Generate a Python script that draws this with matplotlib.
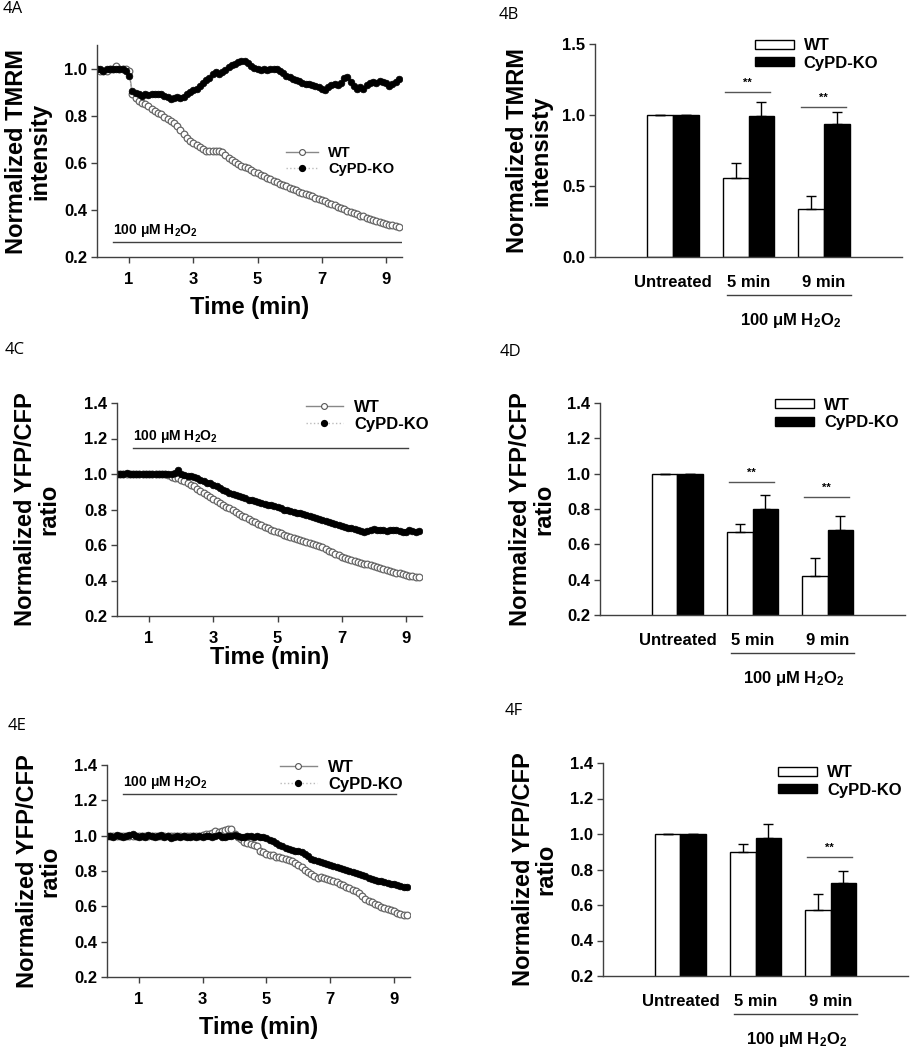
import numpy as np
import matplotlib
matplotlib.use('Agg')
import matplotlib.pyplot as plt
from matplotlib.lines import Line2D
from matplotlib.patches import Patch
from matplotlib.transforms import blended_transform_factory

plt.rcParams['font.family'] = ['Liberation Sans', 'DejaVu Sans']
plt.rcParams['font.weight'] = 'bold'
plt.rcParams['axes.labelweight'] = 'bold'
plt.rcParams['mathtext.fontset'] = 'custom'
plt.rcParams['mathtext.rm'] = 'Liberation Sans:bold'
plt.rcParams['mathtext.bf'] = 'Liberation Sans:bold'
plt.rcParams['mathtext.default'] = 'bf'

# time points (min), one reading every 0.1 min
t = np.round(np.arange(95) * 0.1, 1)

# 4A - TMRM intensity
wt_A = [1.00, 0.99, 0.99, 0.99, 1.00, 1.00, 1.01, 1.00, 1.00, 1.00,
        0.99, 0.89, 0.875, 0.862, 0.855, 0.848, 0.84, 0.83, 0.82, 0.81,
        0.805, 0.795, 0.785, 0.778, 0.77, 0.755, 0.74, 0.722, 0.706, 0.693,
        0.684, 0.674, 0.665, 0.658, 0.652, 0.649, 0.648, 0.649, 0.651, 0.645,
        0.632, 0.622, 0.612, 0.603, 0.595, 0.588, 0.582, 0.577, 0.570, 0.562,
        0.555, 0.549, 0.543, 0.537, 0.530, 0.524, 0.518, 0.512, 0.506, 0.500,
        0.495, 0.489, 0.483, 0.477, 0.472, 0.467, 0.462, 0.457, 0.452, 0.447,
        0.443, 0.437, 0.431, 0.425, 0.420, 0.414, 0.408, 0.403, 0.397, 0.392,
        0.387, 0.381, 0.376, 0.372, 0.367, 0.362, 0.358, 0.353, 0.349, 0.345,
        0.341, 0.337, 0.334, 0.331, 0.328]
ko_A = [1.00, 1.00, 0.99, 1.00, 1.00, 1.00, 1.00, 1.00, 1.00, 0.99,
        0.97, 0.905, 0.895, 0.89, 0.885, 0.89, 0.888, 0.893, 0.89, 0.894,
        0.89, 0.883, 0.878, 0.872, 0.875, 0.879, 0.876, 0.88, 0.89, 0.90,
        0.908, 0.915, 0.925, 0.938, 0.95, 0.96, 0.975, 0.985, 0.978, 0.985,
        0.995, 1.005, 1.013, 1.02, 1.027, 1.03, 1.032, 1.025, 1.012, 1.003,
        0.998, 0.995, 0.997, 0.993, 0.998, 1.0, 0.998, 0.99, 0.98, 0.97,
        0.963, 0.955, 0.95, 0.946, 0.94, 0.935, 0.936, 0.93, 0.925, 0.92,
        0.915, 0.91, 0.92, 0.93, 0.935, 0.932, 0.94, 0.958, 0.965, 0.945,
        0.925, 0.912, 0.92, 0.915, 0.93, 0.94, 0.945, 0.94, 0.948, 0.942,
        0.94, 0.925, 0.935, 0.945, 0.955]

# 4C - YFP/CFP ratio
wt_C = [1.0] * 16 + [
        0.995, 0.985, 0.978, 0.975,
        0.968, 0.958, 0.950, 0.940, 0.930, 0.918, 0.904, 0.892, 0.880, 0.868,
        0.857, 0.846, 0.836, 0.826, 0.816, 0.806, 0.797, 0.787, 0.776, 0.766,
        0.757, 0.748, 0.738, 0.728, 0.719, 0.710, 0.701, 0.693, 0.686, 0.678,
        0.671, 0.665, 0.659, 0.653, 0.647, 0.641, 0.635, 0.630, 0.625, 0.619,
        0.613, 0.607, 0.601, 0.595, 0.586, 0.577, 0.568, 0.559, 0.550, 0.542,
        0.534, 0.527, 0.520, 0.514, 0.509, 0.504, 0.499, 0.495, 0.491, 0.487,
        0.482, 0.477, 0.472, 0.467, 0.461, 0.456, 0.450, 0.445, 0.440, 0.435,
        0.431, 0.427, 0.424, 0.422, 0.421]
ko_C = [1.00, 1.00, 1.00, 1.005, 1.00, 1.00, 1.00, 1.00, 1.00, 1.00,
        1.00, 1.00, 1.00, 1.00, 1.00, 1.00, 1.00, 1.00, 1.005, 1.02,
        1.00, 0.995, 0.99, 0.99, 0.985, 0.975, 0.965, 0.958, 0.952, 0.948,
        0.94, 0.93, 0.92, 0.912, 0.902, 0.895, 0.888, 0.88, 0.874, 0.868,
        0.862, 0.856, 0.851, 0.846, 0.841, 0.836, 0.832, 0.828, 0.823, 0.818,
        0.812, 0.806, 0.800, 0.795, 0.790, 0.786, 0.782, 0.778, 0.774, 0.770,
        0.764, 0.758, 0.751, 0.746, 0.741, 0.736, 0.730, 0.725, 0.720, 0.715,
        0.709, 0.703, 0.698, 0.693, 0.688, 0.683, 0.678, 0.674, 0.680, 0.685,
        0.688, 0.686, 0.683, 0.685, 0.680, 0.682, 0.686, 0.682, 0.679, 0.675,
        0.676, 0.682, 0.678, 0.676, 0.679]

# 4E - YFP/CFP ratio
wt_E = [1.0] * 30 + [
        1.005, 1.01, 1.01, 1.015, 1.025, 1.02, 1.025, 1.03, 1.04, 1.035,
        1.01, 0.995, 0.98, 0.965, 0.958, 0.955, 0.95, 0.94, 0.915, 0.905,
        0.898, 0.893, 0.888, 0.882, 0.878, 0.874, 0.868, 0.864, 0.858, 0.846,
        0.832, 0.82, 0.808, 0.795, 0.782, 0.772, 0.762, 0.765, 0.758, 0.752,
        0.747, 0.742, 0.735, 0.728, 0.72, 0.712, 0.703, 0.694, 0.685, 0.676,
        0.658, 0.64, 0.630, 0.622, 0.614, 0.606, 0.598, 0.591, 0.584, 0.577,
        0.571, 0.565, 0.559, 0.553, 0.549]
ko_E = [1.00, 1.00, 0.995, 1.005, 1.00, 0.995, 1.00, 1.005, 1.01, 1.00,
        0.995, 1.00, 0.99, 1.005, 1.00, 0.99, 1.00, 1.005, 0.995, 1.00,
        0.985, 0.995, 1.00, 0.99, 1.00, 0.995, 0.99, 1.00, 0.995, 1.00,
        0.995, 1.00, 1.00, 0.99, 1.00, 1.005, 0.995, 0.99, 1.00, 1.00,
        1.005, 1.00, 0.995, 0.995, 1.00, 0.997, 0.995, 0.998, 0.995, 0.99,
        0.985, 0.977, 0.968, 0.958, 0.948, 0.940, 0.932, 0.924, 0.918, 0.914,
        0.911, 0.906, 0.898, 0.884, 0.868, 0.860, 0.855, 0.850, 0.845, 0.840,
        0.835, 0.829, 0.823, 0.817, 0.811, 0.805, 0.799, 0.793, 0.787, 0.781,
        0.775, 0.769, 0.763, 0.757, 0.751, 0.746, 0.741, 0.736, 0.731, 0.727,
        0.724, 0.720, 0.716, 0.712, 0.712]

# bar panels: Untreated, 5 min, 9 min
groups = ['Untreated', '5 min', '9 min']
wt_B, wt_B_err = [1.0, 0.553, 0.341], [0, 0.11, 0.09]
ko_B, ko_B_err = [1.0, 0.994, 0.94], [0, 0.097, 0.08]
wt_D, wt_D_err = [1.0, 0.667, 0.422], [0, 0.05, 0.10]
ko_D, ko_D_err = [1.0, 0.80, 0.68], [0, 0.08, 0.08]
wt_F, wt_F_err = [1.0, 0.899, 0.57], [0, 0.043, 0.094]
ko_F, ko_F_err = [1.0, 0.977, 0.724], [0, 0.077, 0.066]

W, H = 910, 1050
fig = plt.figure(figsize=(W / 100, H / 100), dpi=100)
SP = '#404040'
H2O2 = r'100 μM $\mathbf{H_2O_2}$'


def add_ax(l, t_, r, b):
    return fig.add_axes([l / W, 1 - b / H, (r - l) / W, (b - t_) / H])


def style(ax):
    for s in ['top', 'right']:
        ax.spines[s].set_visible(False)
    for s in ['left', 'bottom']:
        ax.spines[s].set_color(SP)
        ax.spines[s].set_linewidth(1)
    ax.tick_params(colors=SP, labelcolor='black', labelsize=12, width=1, length=4)
    ax.tick_params(axis='y', pad=3)


def line_panel(rect, wt, ko, ylim, yticks, ylabel, ylx, xly, h_y, leg, legfs):
    ax = add_ax(*rect)
    style(ax)
    ax.plot(t, wt, '-', color='#888888', lw=1, marker='o', ms=4.8,
            mfc='white', mec='#666666', mew=0.9, label='WT')
    ax.plot(t, ko, ':', color='#bbbbbb', lw=1, marker='o', ms=4.8,
            mfc='black', mec='black', mew=0.5, label='CyPD-KO')
    ax.set_xlim(0, 9.5)
    ax.set_ylim(*ylim)
    ax.set_xticks([1, 3, 5, 7, 9])
    ax.set_yticks(yticks)
    ax.yaxis.set_major_formatter(matplotlib.ticker.FormatStrFormatter('%.1f'))
    ax.tick_params(axis='x', pad=7)
    ax.set_xlabel('Time (min)', fontsize=17, fontweight='bold')
    ax.xaxis.set_label_coords(0.5, xly)
    ax.set_ylabel(ylabel, fontsize=17, fontweight='bold', linespacing=1.0)
    ax.yaxis.set_label_coords(ylx, 0.5)
    ax.plot([0.5, h_y[1]], [h_y[0], h_y[0]], color=SP, lw=1)
    ax.annotate(H2O2, (0.5, h_y[0]), xytext=(0, 2), textcoords='offset points',
                fontsize=10, ha='left', va='bottom')
    hnd = [Line2D([], [], color='#888888', lw=1, marker='o', ms=4.2, mfc='white',
                  mec='#555555', mew=0.8),
           Line2D([], [], color='#bbbbbb', lw=1, ls=':', marker='o', ms=4.2,
                  mfc='black', mec='black')]
    ax.legend(hnd, ['WT', 'CyPD-KO'], loc='center left', bbox_to_anchor=leg,
              frameon=False, fontsize=legfs, numpoints=1, handlelength=2.2,
              handletextpad=0.7, labelspacing=0.1, borderpad=0, borderaxespad=0)
    return ax


def bar_panel(rect, wt, wte, ko, koe, ylim, yticks, ylabel, ylx, sig, leg):
    ax = add_ax(*rect)
    style(ax)
    x = np.arange(len(groups))
    w = 0.34
    ax.bar(x - w / 2, wt, w, color='white', edgecolor='black', lw=1)
    ax.bar(x + w / 2, ko, w, color='black', edgecolor='black', lw=1)
    ax.errorbar(x - w / 2, wt, yerr=[np.zeros(3), wte], fmt='none', ecolor='black',
                elinewidth=1, capsize=3.5, capthick=1)
    ax.errorbar(x + w / 2, ko, yerr=[np.zeros(3), koe], fmt='none', ecolor='black',
                elinewidth=1, capsize=3.5, capthick=1)
    ax.set_xlim(-1.03, 3.03)
    ax.set_ylim(*ylim)
    ax.set_yticks(yticks)
    ax.yaxis.set_major_formatter(matplotlib.ticker.FormatStrFormatter('%.1f'))
    ax.set_xticks(x)
    ax.set_xticklabels(groups)
    ax.tick_params(axis='x', length=0, pad=13)
    ax.set_ylabel(ylabel, fontsize=17, fontweight='bold', linespacing=1.0)
    ax.yaxis.set_label_coords(ylx, 0.5)
    for gi, yy in sig:
        ax.plot([gi - 0.31, gi + 0.29], [yy, yy], color='#555555', lw=1)
        ax.annotate('**', (gi - 0.01, yy), xytext=(0, 3), textcoords='offset points',
                    ha='center', va='bottom', fontsize=8)
    tr = blended_transform_factory(ax.transData, ax.transAxes)
    ax.plot([0.72, 2.35], [-0.18, -0.18], transform=tr, clip_on=False, color=SP, lw=1)
    ax.text(1.55, -0.30, H2O2, transform=tr, ha='center', va='center', fontsize=12)
    hnd = [Patch(facecolor='white', edgecolor='black', lw=1),
           Patch(facecolor='black', edgecolor='black', lw=1)]
    ax.legend(hnd, ['WT', 'CyPD-KO'], loc='center left', bbox_to_anchor=leg,
              frameon=False, fontsize=12, handlelength=2.35, handleheight=0.45,
              handletextpad=0.6, labelspacing=0.15, borderpad=0, borderaxespad=0)
    return ax


yt = [0.2, 0.4, 0.6, 0.8, 1.0, 1.2, 1.4]
line_panel((97, 45, 402, 257), wt_A, ko_A, (0.2, 1.1), [0.2, 0.4, 0.6, 0.8, 1.0],
           'Normalized TMRM\nintensity', -0.15, -0.184, (0.265, 9.5), (0.62, 0.453), 10.5)
line_panel((117, 403, 422, 616), wt_C, ko_C, (0.2, 1.4), yt,
           'Normalized YFP/CFP\nratio', -0.187, -0.14, (1.145, 9.05), (0.62, 0.94), 12)
line_panel((107, 765, 410, 977), wt_E, ko_E, (0.2, 1.4), yt,
           'Normalized YFP/CFP\nratio', -0.149, -0.184, (1.235, 9.05), (0.571, 0.948), 12)

bar_panel((595, 44, 902, 257), wt_B, wt_B_err, ko_B, ko_B_err, (0, 1.5),
          [0.0, 0.5, 1.0, 1.5], 'Normalized TMRM\nintensisty', -0.14,
          [(1, 1.161), (2, 1.053)], (0.52, 0.95))
bar_panel((600, 403, 905, 615), wt_D, wt_D_err, ko_D, ko_D_err, (0.2, 1.4), yt,
          'Normalized YFP/CFP\nratio', -0.147, [(1, 0.954), (2, 0.869)], (0.574, 0.948))
bar_panel((603, 763, 908, 976), wt_F, wt_F_err, ko_F, ko_F_err, (0.2, 1.4), yt,
          'Normalized YFP/CFP\nratio', -0.148, [(2, 0.87)], (0.574, 0.913))

# panel letters
for lab, px, py in [('4A', 3, 9), ('4B', 499, 15), ('4C', 5, 350),
                    ('4D', 500, 352), ('4E', 8, 726), ('4F', 505, 711)]:
    fig.text(px / W, 1 - py / H, lab, fontsize=12, fontweight='normal',
             family=['Open Sans', 'DejaVu Sans'], ha='left', va='center')

fig.savefig('out.png', dpi=100)
